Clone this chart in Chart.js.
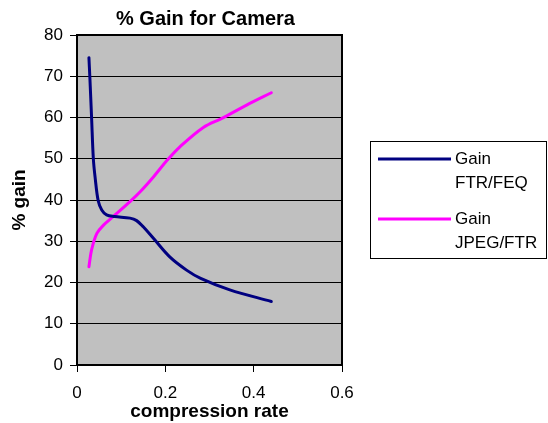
<!DOCTYPE html>
<html>
<head>
<meta charset="utf-8">
<title>% Gain for Camera</title>
<script src="https://cdn.jsdelivr.net/npm/chart.js@4.4.1/dist/chart.umd.min.js"></script>
<style>
  html, body { margin: 0; padding: 0; background: #fff; }
</style>
</head>
<body>
<canvas id="gainChart" width="548" height="423"></canvas>
<script>
// compression rate vs % gain, one pair of arrays per curve
const rateFtrFeq = [0.027, 0.029, 0.033, 0.037, 0.041, 0.048, 0.056, 0.067, 0.085, 0.12, 0.135, 0.15, 0.173, 0.21, 0.248, 0.28, 0.346, 0.44];
const gainFtrFeq = [74.5, 70, 60, 50, 45.5, 39.8, 37.6, 36.4, 36.0, 35.6, 35.0, 33.5, 30.7, 26.2, 23.0, 21.0, 18.2, 15.4];

const rateJpegFtr = [0.027, 0.033, 0.045, 0.06, 0.082, 0.12, 0.143, 0.173, 0.203, 0.233, 0.286, 0.328, 0.384, 0.44];
const gainJpegFtr = [23.8, 27.9, 31.9, 33.9, 36.0, 39.6, 42.0, 45.6, 49.5, 52.9, 57.6, 59.8, 63.0, 66.0];

const xTicks = [0, 0.2, 0.4, 0.6];
const yTicks = [0, 10, 20, 30, 40, 50, 60, 70, 80];
const seriesNames = [['Gain', 'FTR/FEQ'], ['Gain', 'JPEG/FTR']];
const chartTitle = '% Gain for Camera';

const FONT = "'Liberation Sans', Arial, Helvetica, sans-serif";
const PLOT_BG = '#c0c0c0';
const colors = ['#000080', '#ff00ff'];

const toPoints = (xs, ys) => xs.map((x, i) => ({ x: x, y: ys[i] }));

// gray plot area + black frame round it
const plotFrame = {
  id: 'plotFrame',
  beforeDraw(chart) {
    const { ctx, chartArea: a } = chart;
    ctx.save();
    ctx.fillStyle = PLOT_BG;
    ctx.fillRect(a.left, a.top, a.right - a.left, a.bottom - a.top);
    ctx.restore();
  },
  afterDraw(chart) {
    const { ctx, chartArea: a } = chart;
    ctx.save();
    ctx.strokeStyle = '#000';
    ctx.lineWidth = 2;
    ctx.strokeRect(a.left, a.top, a.right - a.left, a.bottom - a.top);
    ctx.restore();
  }
};

// title centred over the plot, boxed legend on the right
const titleAndLegend = {
  id: 'titleAndLegend',
  afterDraw(chart) {
    const { ctx, chartArea: a } = chart;
    ctx.save();
    ctx.fillStyle = '#000';
    ctx.font = 'bold 20px ' + FONT;
    ctx.textAlign = 'center';
    ctx.textBaseline = 'middle';
    ctx.fillText(chartTitle, (a.left + a.right) / 2 - 4, 19);

    // legend box
    const bx = 370.5, by = 141.5, bw = 176, bh = 117;
    ctx.strokeStyle = '#000';
    ctx.lineWidth = 1;
    ctx.strokeRect(bx, by, bw, bh);

    ctx.font = '17px ' + FONT;
    ctx.textAlign = 'left';
    chart.data.datasets.forEach((ds, i) => {
      const ly = 159 + i * 60;
      ctx.strokeStyle = ds.borderColor;
      ctx.lineWidth = 3;
      ctx.beginPath();
      ctx.moveTo(378, ly);
      ctx.lineTo(451, ly);
      ctx.stroke();
      ctx.fillStyle = '#000';
      seriesNames[i].forEach((t, k) => ctx.fillText(t, 455, ly + k * 24));
    });
    ctx.restore();
  }
};

const ctx = document.getElementById('gainChart');
new Chart(ctx, {
  type: 'line',
  data: {
    datasets: [
      { label: seriesNames[0].join(' '), data: toPoints(rateFtrFeq, gainFtrFeq), borderColor: colors[0], backgroundColor: colors[0] },
      { label: seriesNames[1].join(' '), data: toPoints(rateJpegFtr, gainJpegFtr), borderColor: colors[1], backgroundColor: colors[1] }
    ]
  },
  options: {
    responsive: false,
    animation: false,
    devicePixelRatio: 1,
    layout: { padding: { top: 35, right: 206, bottom: 0, left: 0 } },
    elements: {
      line: { borderWidth: 3, tension: 0.35, fill: false, borderCapStyle: 'round', borderJoinStyle: 'round' },
      point: { radius: 0, hoverRadius: 0 }
    },
    plugins: {
      legend: { display: false },
      title: { display: false },
      tooltip: { enabled: false }
    },
    scales: {
      x: {
        type: 'linear',
        min: 0, max: 0.6,
        afterBuildTicks: s => { s.ticks = xTicks.map(v => ({ value: v })); },
        afterFit: s => { s.height = 58; },
        grid: { drawOnChartArea: false, drawTicks: true, tickLength: 7, color: '#000', lineWidth: 1 },
        border: { display: false },
        ticks: { color: '#000', padding: 11, maxRotation: 0, font: { family: FONT, size: 17 } },
        title: { display: true, text: 'compression rate', color: '#000', padding: { top: 0, bottom: 0 }, font: { family: FONT, size: 19, weight: 'bold' } }
      },
      y: {
        min: 0, max: 80,
        afterBuildTicks: s => { s.ticks = yTicks.map(v => ({ value: v })); },
        afterFit: s => { s.width = 77; },
        grid: { drawTicks: true, tickLength: 7, color: '#000', lineWidth: 1 },
        border: { display: false },
        ticks: { color: '#000', padding: 7, font: { family: FONT, size: 17 } },
        title: { display: true, text: '% gain', color: '#000', padding: { top: 8, bottom: 0 }, font: { family: FONT, size: 19, weight: 'bold' } }
      }
    }
  },
  plugins: [plotFrame, titleAndLegend]
});
</script>
</body>
</html>
